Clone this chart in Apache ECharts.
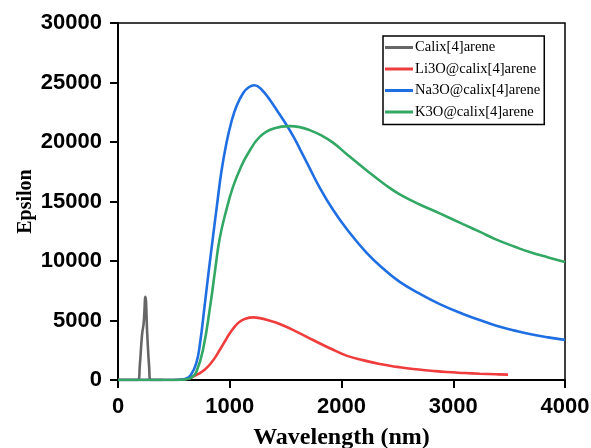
<!DOCTYPE html>
<html>
<head>
<meta charset="utf-8">
<script src="https://cdn.jsdelivr.net/npm/echarts@6/dist/echarts.min.js"></script>
<style>
  html, body { margin: 0; padding: 0; background: #fff; }
  #chart { width: 591px; height: 448px; }
</style>
</head>
<body>
<div id="chart"></div>
<script>
// data: [wavelength nm, epsilon]
const seriesNames = ['Calix[4]arene', 'Li3O@calix[4]arene', 'Na3O@calix[4]arene', 'K3O@calix[4]arene']
const colors = ['#666666', '#ef3d3d', '#1f6fe3', '#33a865']

const calix = [[0, 0], [180, 0], [195, 1200], [215, 3800], [230, 4800], [245, 7000], [262, 3800], [278, 1200], [293, 0], [400, 0]]

const li3o = [[0, 0], [450, 0], [550, 20], [600, 60], [642, 150], [690, 380], [733, 580], [780, 900], [822, 1300],
  [870, 1900], [910, 2520], [960, 3300], [1000, 3920], [1050, 4550], [1089, 4900], [1140, 5150], [1210, 5260],
  [1268, 5200], [1350, 5000], [1447, 4700], [1600, 4050], [1745, 3360], [1900, 2650], [2044, 2050], [2200, 1650],
  [2342, 1340], [2500, 1100], [2641, 920], [2800, 780], [2939, 670], [3100, 590], [3237, 530], [3380, 480], [3490, 450]]

const na3o = [[0, 0], [450, 0], [550, 20], [600, 80], [650, 400], [700, 1400], [733, 3000], [776, 6300], [810, 9000],
  [850, 12030], [890, 15000], [925, 17500], [970, 19900], [1015, 21700], [1060, 23000], [1119, 24100], [1170, 24600],
  [1223, 24770], [1290, 24350], [1358, 23550], [1430, 22550], [1507, 21450], [1570, 20450], [1626, 19450], [1715, 17800],
  [1800, 16250], [1924, 14300], [2050, 12650], [2223, 10700], [2380, 9300], [2521, 8250], [2700, 7250], [2879, 6380],
  [3087, 5550], [3250, 5000], [3386, 4550], [3550, 4150], [3684, 3860], [3850, 3580], [4000, 3370]]

const k3o = [[0, 0], [480, 0], [560, 20], [620, 90], [660, 220], [700, 650], [760, 2500], [828, 6400], [870, 9300],
  [910, 11900], [970, 14300], [1029, 16230], [1100, 17900], [1163, 19030], [1268, 20430], [1400, 21150], [1536, 21330],
  [1626, 21250], [1715, 21000], [1820, 20550], [1924, 19950], [2050, 18950], [2223, 17630], [2400, 16350], [2521, 15600],
  [2700, 14750], [2879, 14000], [3087, 13100], [3250, 12400], [3386, 11800], [3550, 11200], [3684, 10750], [3850, 10300],
  [4000, 9920]]

const xTicks = [0, 4000, 1000]
const yTicks = [0, 30000, 5000]

const chart = echarts.init(document.getElementById('chart'))

function lineSeries(name, data, color) {
  return {
    name: name,
    type: 'line',
    data: data,
    symbol: 'none',
    smooth: 0.45,
    lineStyle: { color: color, width: 2.6 },
    itemStyle: { color: color }
  }
}

const option = {
  backgroundColor: '#fff',
  animation: false,
  grid: {
    left: 118, right: 26, top: 23, bottom: 68,
    outerBoundsMode: 'none',
    show: true, borderColor: '#000', borderWidth: 1.5
  },
  legend: {
    orient: 'vertical',
    left: 383,
    top: 36,
    data: seriesNames,
    icon: 'rect',
    borderColor: '#000',
    borderWidth: 1.5,
    padding: [4, 4, 5, 2],
    itemWidth: 28,
    itemHeight: 3,
    itemGap: 6.5,
    textStyle: { fontFamily: 'Liberation Serif', fontSize: 14.6, lineHeight: 14, color: '#000', padding: [0, 0, 0, -3] }
  },
  xAxis: {
    type: 'value',
    min: xTicks[0], max: xTicks[1], interval: xTicks[2],
    name: 'Wavelength (nm)',
    nameLocation: 'middle',
    nameGap: 46,
    nameMoveOverlap: false,
    nameTextStyle: { fontFamily: 'Liberation Serif', fontWeight: 'bold', fontSize: 24, color: '#000' },
    axisLine: { lineStyle: { color: '#000', width: 2 } },
    axisTick: { inside: false, length: 8, lineStyle: { color: '#000', width: 2 } },
    axisLabel: { margin: 16, formatter: v => String(v), fontFamily: 'Liberation Sans', fontWeight: 'bold', fontSize: 22, color: '#000' },
    splitLine: { show: false }
  },
  yAxis: {
    type: 'value',
    min: yTicks[0], max: yTicks[1], interval: yTicks[2],
    name: 'Epsilon',
    nameLocation: 'middle',
    nameGap: 82,
    nameMoveOverlap: false,
    nameTextStyle: { fontFamily: 'Liberation Serif', fontWeight: 'bold', fontSize: 20, color: '#000' },
    axisLine: { show: true, lineStyle: { color: '#000', width: 2 } },
    axisTick: { show: true, inside: false, length: 8, lineStyle: { color: '#000', width: 2 } },
    axisLabel: { margin: 16, formatter: v => String(v), fontFamily: 'Liberation Sans', fontWeight: 'bold', fontSize: 22, color: '#000' },
    splitLine: { show: false }
  },
  series: [
    lineSeries(seriesNames[0], calix, colors[0]),
    lineSeries(seriesNames[1], li3o, colors[1]),
    lineSeries(seriesNames[2], na3o, colors[2]),
    lineSeries(seriesNames[3], k3o, colors[3])
  ]
}

chart.setOption(option)
</script>
</body>
</html>
